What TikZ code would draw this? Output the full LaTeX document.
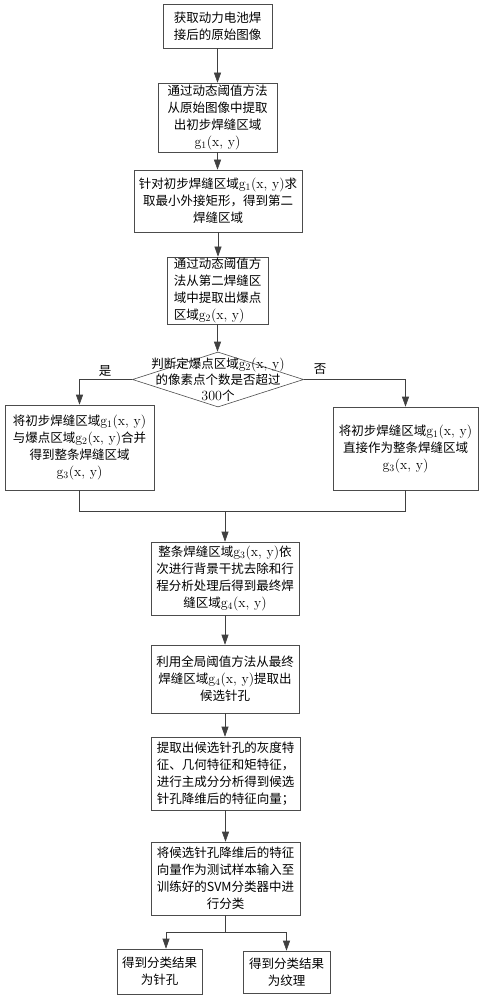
\documentclass[tikz,border=0pt]{standalone}
\usepackage{fontspec}
\newfontfamily\cjk{Noto Sans CJK SC}
\usetikzlibrary{shapes.geometric,arrows.meta}
\newcommand{\gxy}[1]{{\rmfamily\fontsize{14}{17}\selectfont g\textsubscript{#1}(x, y)}}
\begin{document}
\begin{tikzpicture}[x=1pt,y=-1pt,
  box/.style={draw=black!70, line width=0.6pt, align=center, inner sep=1pt,
    font=\cjk\fontsize{12.5}{17}\selectfont},
  txt/.style={align=center, inner sep=0pt, font=\cjk\fontsize{12.5}{16}\selectfont},
  arr/.style={draw=black!75, line width=0.6pt, -{Triangle[length=10pt,width=7pt]}},
  ln/.style={draw=black!75, line width=0.6pt}]
\useasboundingbox (0,0) rectangle (484,1000);
\fill[white] (0,0) rectangle (484,1000);

\node[box,minimum width=109pt,minimum height=44pt] (b1) at (217.5,26) {获取动力电池焊\\接后的原始图像};
\node[box,minimum width=119pt,minimum height=69pt] (b2) at (217.5,117.5) {通过动态阈值方法\\从原始图像中提取\\出初步焊缝区域\\\gxy{1}};
\node[box,minimum width=168pt,minimum height=62pt] (b3) at (218,201) {针对初步焊缝区域\gxy{1}求\\取最小外接矩形，得到第二\\焊缝区域};
\node[box,align=left,minimum width=101pt,minimum height=63pt] (b4) at (217.5,290.5) {通过动态阈值方\\法从第二焊缝区\\域中提取出爆点\\区域\gxy{2}};
\node[draw=black!70, line width=0.6pt, shape=diamond, inner sep=0pt, minimum width=171pt, minimum height=55pt] (d) at (218,379.5) {};
\node[txt] (dt) at (218,379.5) {判断定爆点区域\gxy{2}\\的像素点个数是否超过\\{\rmfamily\fontsize{14}{16}\selectfont 300}个};
\node[box,minimum width=149pt,minimum height=85pt] (lb) at (79.5,447.5) {将初步焊缝区域\gxy{1}\\与爆点区域\gxy{2}合并\\得到整条焊缝区域\\\gxy{3}};
\node[box,minimum width=145pt,minimum height=83pt] (rb) at (405.5,448.5) {将初步焊缝区域\gxy{1}\\直接作为整条焊缝区域\\\gxy{3}};
\node[box,minimum width=148pt,minimum height=73pt] (b5) at (225,578.5) {整条焊缝区域\gxy{3}依\\次进行背景干扰去除和行\\程分析处理后得到最终焊\\缝区域\gxy{4}};
\node[box,minimum width=148pt,minimum height=68pt] (b6) at (225,679) {利用全局阈值方法从最终\\焊缝区域\gxy{4}提取出\\候选针孔};
\node[box,minimum width=149pt,minimum height=73pt] (b7) at (225.5,773.5) {提取出候选针孔的灰度特\\征、几何特征和矩特征，\\进行主成分分析得到候选\\针孔降维后的特征向量；};
\node[box,minimum width=149pt,minimum height=73pt] (b8) at (225.5,878.5) {将候选针孔降维后的特征\\向量作为测试样本输入至\\训练好的SVM分类器中进\\行分类};
\node[box,minimum width=85pt,minimum height=45pt] (bl) at (159.5,971.5) {得到分类结果\\为针孔};
\node[box,minimum width=87pt,minimum height=42pt] (br) at (286.5,972) {得到分类结果\\为纹理};

\node[txt] (yes) at (105,371) {是};
\node[txt] (no) at (320,369) {否};

\draw[arr] (b1.south) -- (b1.south |- b2.north);
\draw[arr] (b2.south) -- (b2.south |- b3.north);
\draw[arr] (b3.south) -- (b3.south |- b4.north);
\draw[arr] (b4.south) -- (b4.south |- d.north);
\draw[arr] (d.west) -| (lb.north);
\draw[arr] (d.east) -| (rb.north);
\coordinate (m) at (225,511);
\draw[ln] (lb.south) -- (lb.south |- m) -- (rb.south |- m) -- (rb.south);
\draw[arr] (m) -- (m |- b5.north);
\draw[arr] (b5.south) -- (b5.south |- b6.north);
\draw[arr] (b6.south) -- (b6.south |- b7.north);
\draw[arr] (b7.south) -- (b7.south |- b8.north);
\coordinate (s) at (225.5,932);
\coordinate (sl) at (166,932);
\draw[ln] (b8.south) -- (s);
\draw[arr] (s) -- (sl) -- (sl |- bl.north);
\draw[arr] (s) -| (br.north);
\end{tikzpicture}
\end{document}
